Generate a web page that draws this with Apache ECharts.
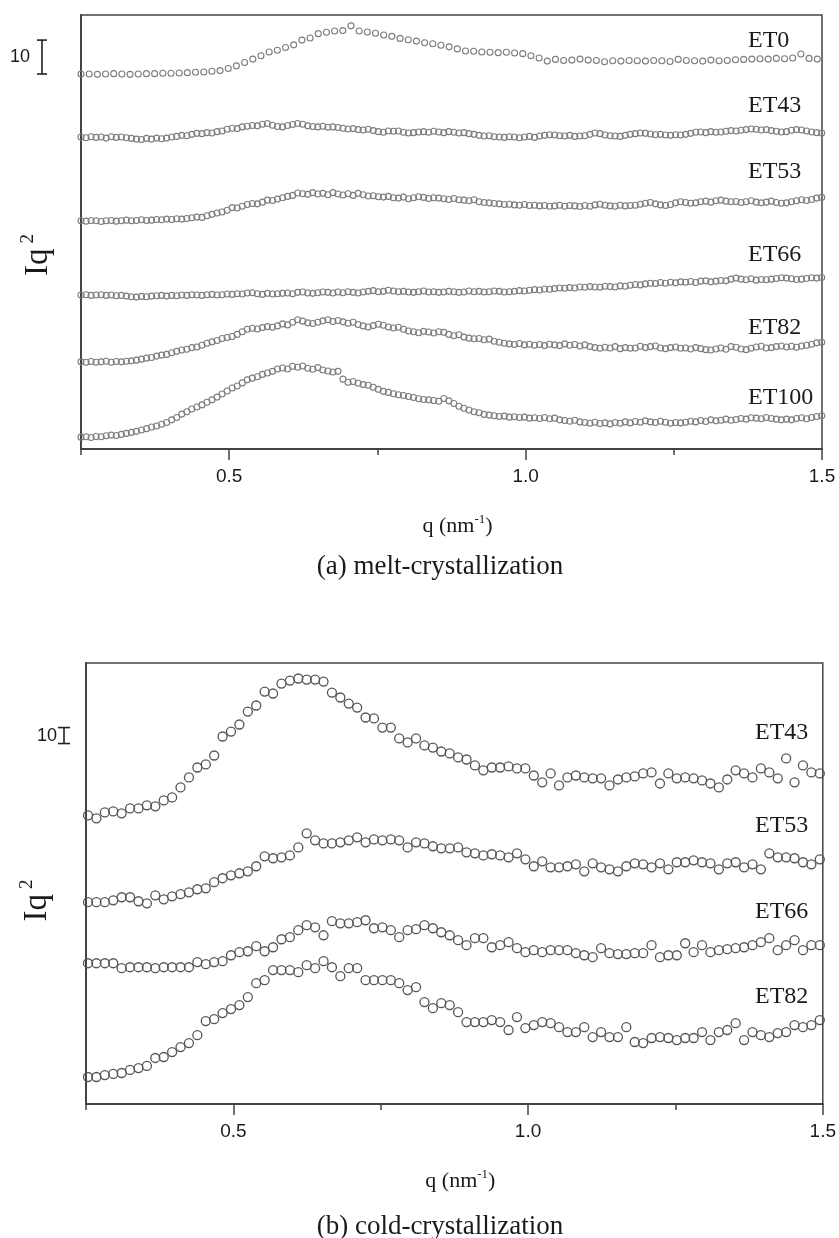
<!DOCTYPE html>
<html>
<head>
<meta charset="utf-8">
<title>SAXS Iq2 profiles</title>
<script src="https://cdn.jsdelivr.net/npm/echarts@6/dist/echarts.min.js"></script>
<style>
html, body { margin: 0; padding: 0; background: #fff; }
#chart { width: 839px; height: 1238px; }
</style>
</head>
<body>
<div id="chart"></div>
<script>
// sampling grids in q (nm^-1)
var qStartA = 0.25, qStepET0 = 0.0138, qStepA = 0.0085;
var qStartB = 0.2534, qStepB = 0.01427;
var qTickLabels = [0.5, 1.0, 1.5];

// scale bars: [start, length] in Iq^2 units
var barA = [110.6, 10];
var barB = [225.6, 10];

// (a) melt-crystallization, curves shifted vertically
var meltET0 = [
  110.6, 110.6, 110.5, 110.6, 110.7, 110.6, 110.5, 110.6, 110.7, 110.7,
  110.8, 110.8, 110.9, 111.0, 111.1, 111.2, 111.4, 111.6, 112.2, 113.0,
  114.0, 115.0, 116.0, 117.1, 117.6, 118.4, 119.2, 120.6, 121.2, 122.5,
  122.9, 123.3, 123.4, 124.8, 123.3, 123.0, 122.6, 122.1, 121.7, 121.1,
  120.7, 120.3, 119.8, 119.5, 119.1, 118.6, 118.0, 117.4, 117.3, 117.1,
  117.0, 116.9, 117.0, 116.8, 116.6, 116.0, 115.3, 114.4, 114.9, 114.6,
  114.7, 115.0, 114.7, 114.6, 114.2, 114.5, 114.4, 114.6, 114.5, 114.4,
  114.6, 114.5, 114.3, 114.9, 114.6, 114.5, 114.4, 114.7, 114.5, 114.6,
  114.8, 114.9, 115.0, 115.1, 115.0, 115.2, 115.1, 115.3, 116.5, 115.2,
  115.0
];
var meltET43 = [
  92.0, 91.8, 92.1, 91.9, 92.0, 91.7, 92.1, 91.9, 92.0, 91.8,
  91.6, 91.4, 91.3, 91.6, 91.4, 91.7, 91.5, 91.7, 92.0, 92.2,
  92.5, 92.4, 92.8, 93.1, 93.0, 93.3, 93.2, 93.6, 93.8, 94.3,
  94.6, 94.5, 95.0, 95.2, 95.4, 95.3, 95.8, 96.0, 95.5, 95.1,
  95.0, 95.4, 95.7, 96.0, 95.8, 95.3, 95.1, 95.0, 95.2, 94.9,
  95.0, 94.8, 94.6, 94.4, 94.5, 94.2, 94.1, 94.3, 93.9, 93.6,
  93.4, 93.8, 93.7, 93.8, 93.4, 93.2, 93.3, 93.5, 93.6, 93.4,
  93.7, 93.5, 93.3, 93.6, 93.4, 93.2, 93.3, 93.0, 92.8, 92.5,
  92.3, 92.4, 92.1, 92.0, 91.9, 92.1, 92.0, 91.8, 92.0, 92.2,
  91.9, 92.3, 92.5, 92.7, 92.6, 92.4, 92.3, 92.5, 92.2, 92.3,
  92.4, 92.8, 93.2, 93.0, 92.6, 92.4, 92.3, 92.2, 92.5, 92.8,
  93.0, 93.2, 93.1, 92.9, 92.7, 92.8, 92.6, 92.5, 92.7, 92.6,
  92.8, 93.1, 93.4, 93.5, 93.3, 93.6, 93.4, 93.5, 93.7, 93.9,
  93.8, 94.0, 94.2, 94.4, 94.3, 94.1, 94.2, 93.9, 93.7, 93.5,
  93.6, 94.0, 94.2, 94.1, 93.8, 93.5, 93.3, 93.2
];
var meltET53 = [
  67.3, 67.2, 67.4, 67.3, 67.1, 67.3, 67.4, 67.2, 67.3, 67.5,
  67.3, 67.4, 67.6, 67.4, 67.5, 67.7, 67.6, 67.8, 67.7, 67.9,
  67.8, 68.0, 68.2, 68.4, 68.3, 68.8, 69.2, 69.6, 69.9, 70.4,
  71.2, 71.1, 71.6, 72.1, 72.4, 72.3, 72.8, 73.4, 73.3, 73.7,
  74.1, 74.5, 74.8, 75.5, 75.3, 75.1, 75.6, 75.2, 75.4, 75.0,
  75.6, 75.2, 74.9, 75.3, 74.8, 75.4, 75.0, 74.6, 74.7, 74.4,
  74.3, 74.5, 74.1, 74.0, 74.3, 73.8, 74.1, 74.4, 74.2, 73.9,
  74.1, 74.0, 73.8, 73.6, 73.9, 73.5, 73.4, 73.2, 73.5, 72.9,
  72.7, 72.6, 72.4, 72.3, 72.1, 72.2, 72.0, 71.9, 72.1, 71.8,
  71.9, 71.7, 71.8, 71.6, 71.7, 71.9, 71.6, 71.8, 71.7, 71.5,
  71.8, 71.6, 72.0, 72.2, 71.9, 71.7, 71.6, 71.9, 71.7, 71.8,
  71.9, 72.2, 72.5, 72.7, 72.3, 72.0, 71.8, 72.1, 72.6, 72.9,
  72.7, 72.5, 72.6, 72.9, 73.1, 72.8, 73.2, 73.4, 73.1, 72.9,
  73.0, 72.7, 72.9, 73.2, 72.8, 72.6, 72.8, 73.1, 72.7, 72.5,
  72.6, 72.9, 73.2, 73.5, 73.3, 73.6, 74.0, 74.2
];
var meltET66 = [
  45.4, 45.5, 45.3, 45.4, 45.5, 45.3, 45.4, 45.2, 45.3, 45.1,
  44.9, 44.8, 45.0, 44.9, 45.1, 45.2, 45.3, 45.1, 45.3, 45.2,
  45.4, 45.3, 45.5, 45.4, 45.3, 45.5, 45.6, 45.4, 45.5, 45.7,
  45.6, 45.8, 45.7, 46.0, 46.1, 45.8, 45.6, 45.9, 45.7, 45.8,
  45.9, 46.0, 45.8, 46.2, 46.3, 46.0, 45.9, 46.1, 46.3, 46.2,
  46.0, 46.3, 46.1, 46.4, 46.2, 46.0, 46.3, 46.5, 46.7, 46.4,
  46.5, 46.8, 46.6, 46.4, 46.5, 46.3, 46.2, 46.4, 46.6, 46.3,
  46.4, 46.2, 46.3, 46.5, 46.4, 46.2, 46.3, 46.6, 46.4, 46.5,
  46.3, 46.4, 46.6, 46.5, 46.3, 46.4, 46.5, 46.7, 46.6, 46.8,
  47.0, 46.9, 47.2, 47.1, 47.3, 47.5, 47.4, 47.6, 47.5, 47.8,
  47.7, 47.9, 47.8, 47.7, 48.0, 47.9, 47.8, 48.1, 48.0, 48.3,
  48.5, 48.4, 48.7, 48.9, 48.8, 49.1, 48.9, 49.2, 49.0, 49.3,
  49.2, 49.4, 49.1, 49.5, 49.6, 49.3, 49.5, 49.7, 49.6, 50.1,
  50.4, 50.1, 49.9, 50.2, 49.8, 50.0, 49.9, 50.1, 50.3, 50.5,
  50.4, 50.2, 50.0, 50.1, 50.3, 50.5, 50.4, 50.6
];
var meltET82 = [
  25.7, 25.6, 25.8, 25.6, 25.7, 25.9, 25.6, 25.8, 25.7, 25.9,
  26.0, 26.2, 26.5, 26.8, 27.0, 27.4, 27.7, 27.9, 28.4, 28.8,
  29.2, 29.4, 29.9, 30.1, 30.6, 31.2, 31.6, 32.0, 32.6, 32.9,
  33.2, 33.8, 34.6, 35.3, 35.6, 35.4, 35.8, 36.1, 35.9, 36.3,
  36.9, 36.6, 37.4, 38.1, 37.7, 37.2, 37.0, 37.4, 37.8, 38.1,
  37.6, 37.9, 37.5, 37.1, 37.4, 36.7, 36.3, 36.0, 36.4, 36.8,
  36.5, 36.0, 35.7, 35.9, 35.3, 34.8, 34.6, 34.3, 34.7, 34.5,
  34.2, 34.6, 34.4, 33.8, 33.4, 33.7, 33.0, 32.7, 32.5, 32.6,
  32.2, 32.4, 31.8, 31.5, 31.2, 31.0, 30.8, 31.1, 30.7, 30.9,
  30.6, 30.8, 30.5, 30.9, 30.7, 30.5, 31.0, 30.6, 30.8, 30.4,
  30.7, 30.2, 29.9, 29.7, 30.0, 29.8, 30.2, 29.6, 29.9, 29.7,
  29.8, 30.3, 29.9, 30.2, 30.4, 29.8, 29.6, 29.9, 30.1, 29.7,
  29.8, 29.5, 29.9, 29.6, 29.3, 29.2, 29.5, 29.8, 29.4, 30.2,
  30.0, 29.5, 29.3, 29.7, 30.1, 30.3, 29.8, 29.9, 30.2, 30.4,
  30.1, 30.3, 30.0, 30.4, 30.6, 30.9, 31.3, 31.5
];
var meltET100 = [
  3.5, 3.6, 3.4, 3.7, 3.6, 3.9, 4.1, 4.0, 4.3, 4.6,
  4.9, 5.2, 5.6, 6.0, 6.5, 6.8, 7.3, 7.8, 8.6, 9.3,
  10.3, 11.0, 11.8, 12.4, 13.0, 13.8, 14.5, 15.3, 16.2, 17.1,
  18.0, 18.6, 19.5, 20.4, 20.9, 21.3, 22.0, 22.4, 22.9, 23.6,
  23.9, 23.6, 24.4, 24.1, 24.5, 23.8, 23.5, 24.0, 23.3, 23.0,
  22.7, 22.9, 20.6, 19.7, 19.9, 19.4, 19.0, 18.8, 18.2, 17.6,
  17.0, 16.7, 16.3, 16.0, 15.8, 15.5, 15.2, 14.8, 14.6, 14.5,
  14.3, 14.1, 14.9, 14.2, 13.4, 12.6, 12.0, 11.5, 11.0, 10.7,
  10.2, 10.0, 9.8, 9.6, 9.7, 9.4, 9.5, 9.3, 9.4, 9.1,
  9.2, 9.0, 9.3, 8.9, 9.1, 8.6, 8.4, 8.2, 8.5, 8.0,
  7.8, 7.6, 7.9, 7.5, 7.7, 7.4, 7.8, 7.6, 8.0, 7.7,
  8.1, 7.9, 8.3, 8.0, 7.8, 8.2, 7.9, 7.6, 7.8, 7.7,
  7.9, 8.2, 8.0, 8.4, 8.1, 8.6, 8.3, 8.5, 8.8, 8.5,
  8.7, 9.0, 8.8, 9.2, 9.1, 8.9, 9.3, 9.0, 8.8, 8.6,
  8.8, 8.6, 9.0, 9.2, 8.9, 9.3, 9.6, 9.8
];

// (b) cold-crystallization, curves shifted vertically
var coldET43 = [
  180.6, 178.8, 182.5, 183.1, 181.9, 185.0, 185.0, 186.9, 186.3, 190.0,
  191.9, 198.1, 204.4, 210.6, 212.5, 218.1, 230.0, 233.1, 237.5, 245.6,
  249.4, 258.1, 256.9, 263.1, 265.0, 266.3, 265.6, 265.6, 264.4, 257.5,
  254.4, 250.6, 248.1, 241.9, 241.3, 235.6, 235.6, 228.8, 226.3, 228.8,
  224.4, 223.1, 220.6, 219.4, 216.9, 215.6, 211.9, 208.8, 210.6, 210.6,
  211.3, 210.0, 210.0, 205.6, 201.3, 206.9, 199.4, 204.4, 205.6, 204.4,
  203.8, 203.8, 199.4, 203.1, 204.4, 205.0, 206.9, 207.5, 200.6, 206.9,
  203.8, 204.4, 203.8, 202.5, 200.6, 198.1, 203.1, 208.8, 206.9, 204.4,
  210.0, 207.5, 203.8, 216.3, 201.3, 211.9, 207.5, 206.9
];
var coldET53 = [
  126.3, 126.3, 126.3, 127.5, 129.4, 129.4, 126.9, 125.6, 130.6, 128.1,
  130.0, 131.3, 132.5, 134.4, 135.0, 138.8, 141.3, 143.1, 144.4, 145.6,
  148.8, 155.0, 153.8, 154.4, 155.6, 160.6, 169.4, 165.0, 163.1, 163.1,
  163.8, 165.0, 166.9, 163.8, 165.6, 165.0, 165.6, 165.0, 160.6, 163.8,
  163.1, 161.3, 160.0, 160.0, 160.6, 157.5, 156.9, 155.6, 156.3, 155.6,
  154.4, 156.9, 153.1, 148.8, 151.9, 148.1, 148.1, 148.8, 150.0, 145.6,
  150.6, 148.1, 146.9, 145.6, 148.8, 150.6, 150.0, 148.1, 150.6, 146.9,
  151.3, 151.3, 152.5, 151.3, 150.6, 146.9, 150.6, 151.3, 148.1, 150.0,
  146.9, 156.9, 154.4, 154.4, 153.8, 151.3, 150.0, 153.1
];
var coldET66 = [
  88.1, 88.1, 88.1, 88.1, 85.0, 85.6, 85.6, 85.6, 85.0, 85.6,
  85.6, 85.6, 85.6, 88.8, 87.5, 88.8, 89.4, 93.1, 95.0, 95.6,
  98.8, 95.6, 98.1, 103.1, 104.4, 108.8, 111.9, 110.6, 105.6, 114.4,
  113.1, 113.1, 113.8, 115.0, 110.0, 110.6, 108.8, 104.4, 108.8, 109.4,
  111.9, 110.0, 107.5, 105.6, 102.5, 99.4, 103.8, 103.8, 98.1, 99.4,
  101.3, 97.5, 95.0, 96.3, 95.0, 96.3, 96.3, 96.3, 94.4, 93.1,
  91.9, 97.5, 94.4, 93.8, 93.8, 94.4, 94.4, 99.4, 91.9, 93.1,
  93.1, 100.6, 95.0, 99.4, 95.0, 96.3, 96.9, 97.5, 98.1, 99.4,
  101.3, 103.8, 96.3, 99.4, 102.5, 96.3, 99.4, 99.4
];
var coldET82 = [
  16.9, 16.9, 18.1, 18.8, 19.4, 21.3, 22.5, 23.8, 28.8, 29.4,
  32.5, 35.6, 38.1, 43.1, 51.9, 53.1, 56.9, 59.4, 61.9, 66.9,
  75.6, 77.5, 83.8, 83.8, 83.8, 82.5, 86.9, 85.0, 89.4, 85.6,
  80.0, 85.0, 85.0, 77.5, 77.5, 77.5, 77.5, 75.6, 71.3, 73.1,
  63.8, 60.0, 63.1, 61.9, 57.5, 51.3, 51.3, 51.3, 52.5, 51.3,
  46.3, 54.4, 47.5, 49.4, 51.3, 50.6, 48.1, 45.0, 45.0, 48.1,
  41.9, 45.0, 41.9, 41.9, 48.1, 38.8, 38.1, 41.3, 41.9, 41.3,
  40.0, 41.3, 41.3, 45.0, 40.0, 45.0, 46.3, 50.6, 40.0, 45.0,
  43.1, 41.9, 44.4, 45.0, 49.4, 48.1, 49.4, 52.5
];

var namesA = ['ET0', 'ET43', 'ET53', 'ET66', 'ET82', 'ET100'];
var namesB = ['ET43', 'ET53', 'ET66', 'ET82'];

function pairs(start, step, vals) {
  return vals.map(function (v, i) {
    return [+(start + i * step).toFixed(5), v];
  });
}

var chart = echarts.init(document.getElementById('chart'));

var serif = '"Liberation Serif", "Times New Roman", serif';
var sans = '"Liberation Sans", Arial, sans-serif';
var ink = '#1a1a1a';
var frame = '#444';

function qAxis(grid) {
  return {
    type: 'value', gridIndex: grid, min: 0.25, max: 1.5, interval: 0.25,
    axisLine: { show: true, onZero: false, lineStyle: { color: frame, width: 2 } },
    axisTick: { show: true, inside: false, length: 6, lineStyle: { color: frame, width: 1.5 } },
    axisLabel: {
      margin: 18, color: ink, fontFamily: sans, fontSize: 19,
      showMinLabel: true, showMaxLabel: true, hideOverlap: false,
      formatter: function (v) {
        return qTickLabels.some(function (t) { return Math.abs(t - v) < 1e-6; }) ? v.toFixed(1) : '';
      }
    },
    splitLine: { show: false },
    name: 'q (nm{s|-1})', nameLocation: 'middle', nameGap: 64,
    nameTextStyle: {
      fontFamily: serif, fontSize: 22, color: ink, lineHeight: 26, padding: [0, 0, 0, 12],
      rich: { s: { fontFamily: serif, fontSize: 13, lineHeight: 12, verticalAlign: 'top', color: ink } }
    }
  };
}
function majorTicks(grid) {
  return {
    type: 'value', gridIndex: grid, min: 0.25, max: 1.5, position: 'bottom',
    axisLine: { show: false },
    axisTick: { show: true, length: 11, customValues: qTickLabels, lineStyle: { color: frame, width: 1.5 } },
    axisLabel: { show: false },
    splitLine: { show: false }
  };
}
function iAxis(grid, max, gap, shift) {
  return {
    type: 'value', gridIndex: grid, min: 0, max: max,
    axisLine: { show: true, onZero: false, lineStyle: { color: frame, width: 2 } },
    axisTick: { show: false }, axisLabel: { show: false }, splitLine: { show: false },
    name: '{b|Iq}{s|2}', nameLocation: 'middle', nameGap: gap,
    nameTextStyle: {
      padding: [0, shift, 0, 0],
      rich: {
        b: { fontFamily: serif, fontSize: 33, lineHeight: 38, color: ink },
        s: { fontFamily: serif, fontSize: 19, lineHeight: 20, verticalAlign: 'top', color: ink, padding: [0, 0, 0, 5] }
      }
    }
  };
}

function scaleBar(xIdx, yIdx, bar, dx, half, gapText) {
  return {
    type: 'custom', xAxisIndex: xIdx, yAxisIndex: yIdx, clip: false, silent: true,
    data: [[0.25, bar[0], bar[0] + bar[1]]],
    encode: { x: 0, y: [1, 2] },
    renderItem: function (params, api) {
      var lo = api.coord([api.value(0), api.value(1)]);
      var hi = api.coord([api.value(0), api.value(2)]);
      var x = lo[0] - dx;
      var st = { stroke: '#222', lineWidth: 1.6 };
      return {
        type: 'group', children: [
          { type: 'line', shape: { x1: x, y1: lo[1], x2: x, y2: hi[1] }, style: st },
          { type: 'line', shape: { x1: x - half, y1: lo[1], x2: x + half, y2: lo[1] }, style: st },
          { type: 'line', shape: { x1: x - half, y1: hi[1], x2: x + half, y2: hi[1] }, style: st },
          { type: 'text', style: { text: String(bar[1]), x: x - gapText, y: (lo[1] + hi[1]) / 2,
            align: 'right', verticalAlign: 'middle', font: '18px ' + sans, fill: ink } }
        ]
      };
    }
  };
}

function circles(name, xIdx, yIdx, data, size, color, width) {
  return {
    name: name, type: 'scatter', xAxisIndex: xIdx, yAxisIndex: yIdx,
    data: data, symbol: 'circle', symbolSize: size, silent: true,
    itemStyle: { color: 'rgba(255,255,255,0)', borderColor: color, borderWidth: width, opacity: 1 }
  };
}

var series = [
  circles(namesA[0], 0, 0, pairs(qStartA, qStepET0, meltET0), 6, '#7d7d7d', 1.1),
  circles(namesA[1], 0, 0, pairs(qStartA, qStepA, meltET43), 6, '#7d7d7d', 1.1),
  circles(namesA[2], 0, 0, pairs(qStartA, qStepA, meltET53), 6, '#7d7d7d', 1.1),
  circles(namesA[3], 0, 0, pairs(qStartA, qStepA, meltET66), 6, '#7d7d7d', 1.1),
  circles(namesA[4], 0, 0, pairs(qStartA, qStepA, meltET82), 6, '#7d7d7d', 1.1),
  circles(namesA[5], 0, 0, pairs(qStartA, qStepA, meltET100), 6, '#7d7d7d', 1.1),
  circles(namesB[0], 2, 1, pairs(qStartB, qStepB, coldET43), 9, '#555', 1.3),
  circles(namesB[1], 2, 1, pairs(qStartB, qStepB, coldET53), 9, '#555', 1.3),
  circles(namesB[2], 2, 1, pairs(qStartB, qStepB, coldET66), 9, '#555', 1.3),
  circles(namesB[3], 2, 1, pairs(qStartB, qStepB, coldET82), 9, '#555', 1.3),
  scaleBar(0, 0, barA, 39, 5, 12),
  scaleBar(2, 1, barB, 22, 6, 7)
];

// curve labels and panel captions
var labelYA = [41, 106, 172, 255, 328, 398];
var labelYB = [733, 826, 912, 997];
var graphics = [];
namesA.forEach(function (n, i) {
  graphics.push({ type: 'text', x: 748, y: labelYA[i], silent: true,
    style: { text: n, font: '24px ' + serif, fill: ink, align: 'left', verticalAlign: 'middle' } });
});
namesB.forEach(function (n, i) {
  graphics.push({ type: 'text', x: 755, y: labelYB[i], silent: true,
    style: { text: n, font: '24px ' + serif, fill: ink, align: 'left', verticalAlign: 'middle' } });
});
graphics.push({ type: 'text', x: 440, y: 567, silent: true,
  style: { text: '(a) melt-crystallization', font: '27px ' + serif, fill: ink, align: 'center', verticalAlign: 'middle' } });
graphics.push({ type: 'text', x: 440, y: 1227, silent: true,
  style: { text: '(b) cold-crystallization', font: '27px ' + serif, fill: ink, align: 'center', verticalAlign: 'middle' } });

var option = {
  animation: false,
  backgroundColor: '#fff',
  grid: [
    { left: 81, top: 15, width: 741, height: 434, show: true, borderColor: frame, borderWidth: 1.5, backgroundColor: 'transparent' },
    { left: 86, top: 663, width: 744, height: 441, show: true, borderColor: frame, borderWidth: 1.5, backgroundColor: 'transparent' }
  ],
  xAxis: [qAxis(0), majorTicks(0), qAxis(1), majorTicks(1)],
  yAxis: [iAxis(0, 128, 24, 46), iAxis(1, 276, 30, 34)],
  series: series,
  graphic: graphics
};

chart.setOption(option);
</script>
</body>
</html>
